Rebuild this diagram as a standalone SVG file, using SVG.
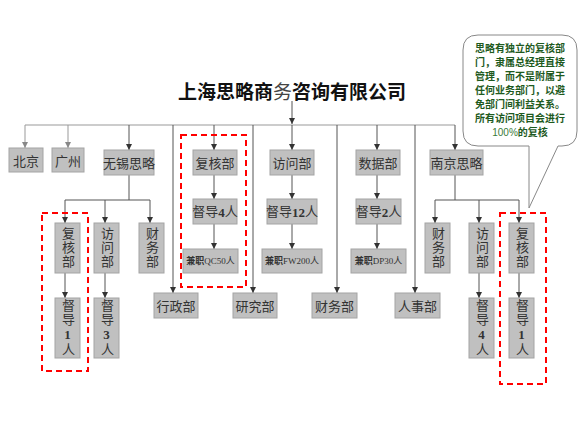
<svg xmlns="http://www.w3.org/2000/svg" width="580" height="429" viewBox="0 0 580 429">
<defs>
<style>
.b{fill:#c0c0c0;stroke:#a4a4a4;stroke-width:1}
.t{font-family:"Noto Sans CJK SC","Liberation Sans",sans-serif;font-size:13px;fill:#333;text-anchor:middle;dominant-baseline:central}
.s{font-family:"Liberation Serif","Noto Sans CJK SC",serif;font-size:13px;fill:#333;text-anchor:middle;dominant-baseline:central}
.v{font-family:"Liberation Serif","Noto Sans CJK SC",serif;font-size:13px;fill:#333;text-anchor:middle;writing-mode:vertical-rl;text-orientation:upright;letter-spacing:1px}
.k{font-family:"Liberation Serif","Noto Sans CJK SC",serif;font-size:9px;fill:#333;text-anchor:middle;dominant-baseline:central}
.l{stroke:#555;stroke-width:1;fill:none}
.g{stroke:#999;stroke-width:1;fill:none}
.r{fill:none;stroke:#ff0000;stroke-width:2;stroke-dasharray:6,4}
.c{font-family:"Noto Sans CJK SC",sans-serif;font-size:10px;font-weight:bold;fill:#1e5a1e;text-anchor:middle}
</style>
<marker id="a" markerWidth="6" markerHeight="6" refX="6" refY="3" orient="auto" markerUnits="userSpaceOnUse"><path d="M0,0L6,3L0,6z" fill="#333"/></marker>
<marker id="ag" markerWidth="6" markerHeight="6" refX="6" refY="3" orient="auto" markerUnits="userSpaceOnUse"><path d="M0,0L6,3L0,6z" fill="#888"/></marker>
</defs>
<rect width="580" height="429" fill="#fff"/>

<g id="title">
<text x="292" y="90" font-family="Noto Sans CJK SC,sans-serif" font-size="19" font-weight="bold" fill="#111" text-anchor="middle" dominant-baseline="central">上海思略商<tspan font-weight="normal" fill="#444">务</tspan>咨询有限公司</text>
</g>

<g id="connectors">
<line class="l" x1="292" y1="101" x2="292" y2="124" marker-end="url(#a)"/>
<line class="g" x1="25" y1="125" x2="455" y2="125"/>
<line class="g" x1="25" y1="125" x2="25" y2="148" marker-end="url(#ag)"/>
<line class="g" x1="68" y1="125" x2="68" y2="148" marker-end="url(#ag)"/>
<line class="l" x1="129" y1="125" x2="129" y2="150" marker-end="url(#a)"/>
<line class="l" x1="173" y1="125" x2="173" y2="293" marker-end="url(#a)"/>
<line class="l" x1="214" y1="125" x2="214" y2="150" marker-end="url(#a)"/>
<line class="l" x1="253" y1="125" x2="253" y2="293" marker-end="url(#a)"/>
<line class="l" x1="292" y1="125" x2="292" y2="150" marker-end="url(#a)"/>
<line class="l" x1="337" y1="125" x2="337" y2="293" marker-end="url(#a)"/>
<line class="l" x1="377" y1="125" x2="377" y2="150" marker-end="url(#a)"/>
<line class="l" x1="415" y1="125" x2="415" y2="293" marker-end="url(#a)"/>
<line class="l" x1="455" y1="125" x2="455" y2="150" marker-end="url(#a)"/>
<line class="l" x1="214" y1="175" x2="214" y2="199" marker-end="url(#a)"/>
<line class="l" x1="214" y1="224" x2="214" y2="249" marker-end="url(#a)"/>
<line class="l" x1="292" y1="175" x2="292" y2="199" marker-end="url(#a)"/>
<line class="l" x1="292" y1="224" x2="292" y2="249" marker-end="url(#a)"/>
<line class="l" x1="377" y1="175" x2="377" y2="199" marker-end="url(#a)"/>
<line class="l" x1="377" y1="224" x2="377" y2="249" marker-end="url(#a)"/>
<path class="l" d="M129,175V200M65,200H150"/>
<line class="l" x1="65" y1="200" x2="65" y2="223" marker-end="url(#a)"/>
<line class="l" x1="105" y1="200" x2="105" y2="223" marker-end="url(#a)"/>
<line class="l" x1="150" y1="200" x2="150" y2="223" marker-end="url(#a)"/>
<line class="l" x1="65" y1="273" x2="65" y2="298" marker-end="url(#a)"/>
<line class="l" x1="105" y1="273" x2="105" y2="298" marker-end="url(#a)"/>
<path class="l" d="M455,175V200M435,200H519"/>
<line class="l" x1="435" y1="200" x2="435" y2="223" marker-end="url(#a)"/>
<line class="l" x1="479" y1="200" x2="479" y2="223" marker-end="url(#a)"/>
<line class="l" x1="519" y1="200" x2="519" y2="223" marker-end="url(#a)"/>
<line class="l" x1="479" y1="273" x2="479" y2="298" marker-end="url(#a)"/>
<line class="l" x1="519" y1="273" x2="519" y2="298" marker-end="url(#a)"/>
</g>

<g id="n-beijing"><rect class="b" x="9" y="148" width="34" height="24"/><text class="t" x="26" y="160">北京</text></g>
<g id="n-guangzhou"><rect class="b" x="52" y="148" width="32" height="24"/><text class="t" x="68" y="160">广州</text></g>
<g id="n-wuxi"><rect class="b" x="104" y="150" width="50" height="25"/><text class="t" x="129" y="162.5">无锡思略</text></g>
<g id="n-fuhe"><rect class="b" x="193" y="150" width="44" height="25"/><text class="t" x="215" y="162.5">复核部</text></g>
<g id="n-fangwen"><rect class="b" x="270" y="150" width="44" height="25"/><text class="t" x="292" y="162.5">访问部</text></g>
<g id="n-shuju"><rect class="b" x="356" y="150" width="44" height="25"/><text class="t" x="378" y="162.5">数据部</text></g>
<g id="n-nanjing"><rect class="b" x="430" y="150" width="53" height="25"/><text class="t" x="456.5" y="162.5">南京思略</text></g>

<g id="n-dd4"><rect class="b" x="193" y="199" width="44" height="25"/><text class="s" x="215" y="211.5">督导<tspan font-weight="bold">4</tspan>人</text></g>
<g id="n-dd12"><rect class="b" x="267" y="199" width="50" height="25"/><text class="s" x="292" y="211.5">督导<tspan font-weight="bold">12</tspan>人</text></g>
<g id="n-dd2"><rect class="b" x="356" y="199" width="45" height="25"/><text class="s" x="378.5" y="211.5">督导<tspan font-weight="bold">2</tspan>人</text></g>
<g id="n-qc"><rect class="b" x="183" y="249" width="55" height="24"/><text class="k" x="210.5" y="261"><tspan font-weight="bold">兼职</tspan>QC50人</text></g>
<g id="n-fw"><rect class="b" x="262" y="249" width="60" height="24"/><text class="k" x="292" y="261"><tspan font-weight="bold">兼职</tspan>FW200人</text></g>
<g id="n-dp"><rect class="b" x="351" y="249" width="55" height="24"/><text class="k" x="378.5" y="261"><tspan font-weight="bold">兼职</tspan>DP30人</text></g>

<g id="n-xingzheng"><rect class="b" x="154" y="293" width="44" height="25"/><text class="t" x="176" y="305.5">行政部</text></g>
<g id="n-yanjiu"><rect class="b" x="233" y="293" width="44" height="25"/><text class="t" x="255" y="305.5">研究部</text></g>
<g id="n-caiwu"><rect class="b" x="312" y="293" width="45" height="25"/><text class="t" x="334.5" y="305.5">财务部</text></g>
<g id="n-renshi"><rect class="b" x="395" y="293" width="45" height="25"/><text class="t" x="417.5" y="305.5">人事部</text></g>

<g id="n-wx-fuhe"><rect class="b" x="55" y="223" width="25" height="50"/><text class="v" x="67.5" y="248">复核部</text></g>
<g id="n-wx-fangwen"><rect class="b" x="94" y="223" width="25" height="50"/><text class="v" x="106.5" y="248">访问部</text></g>
<g id="n-wx-caiwu"><rect class="b" x="139" y="223" width="25" height="50"/><text class="v" x="151.5" y="248">财务部</text></g>
<g id="n-wx-dd1"><rect class="b" x="55" y="298" width="25" height="60"/><text class="v" x="67.5" y="328">督导<tspan font-weight="bold">1</tspan>人</text></g>
<g id="n-wx-dd3"><rect class="b" x="94" y="298" width="25" height="60"/><text class="v" x="106.5" y="328">督导<tspan font-weight="bold">3</tspan>人</text></g>

<g id="n-nj-caiwu"><rect class="b" x="425" y="223" width="25" height="50"/><text class="v" x="437.5" y="248">财务部</text></g>
<g id="n-nj-fangwen"><rect class="b" x="469" y="223" width="25" height="50"/><text class="v" x="481.5" y="248">访问部</text></g>
<g id="n-nj-fuhe"><rect class="b" x="509" y="223" width="25" height="50"/><text class="v" x="521.5" y="248">复核部</text></g>
<g id="n-nj-dd4"><rect class="b" x="469" y="298" width="25" height="60"/><text class="v" x="481.5" y="328">督导<tspan font-weight="bold">4</tspan>人</text></g>
<g id="n-nj-dd1"><rect class="b" x="509" y="298" width="25" height="60"/><text class="v" x="521.5" y="328">督导<tspan font-weight="bold">1</tspan>人</text></g>

<g id="highlights">
<rect class="r" x="42" y="213" width="46" height="158"/>
<rect class="r" x="181" y="135" width="65" height="152"/>
<rect class="r" x="500" y="213" width="46" height="171"/>
</g>

<g id="callout">
<path d="M478,35H562Q577,35 577,50V131Q577,146 562,146H558L529,208V146H478Q463,146 463,131V50Q463,35 478,35Z" fill="#fff" stroke="#888" stroke-width="1"/>
<text class="c" x="520" y="52">思略有独立的复核部</text>
<text class="c" x="520" y="66">门，隶属总经理直接</text>
<text class="c" x="520" y="80">管理，而不是附属于</text>
<text class="c" x="520" y="94">任何业务部门，以避</text>
<text class="c" x="520" y="108">免部门间利益关系。</text>
<text class="c" x="520" y="122">所有访问项目会进行</text>
<text class="c" x="520" y="136"><tspan font-family="Liberation Sans,sans-serif" font-weight="normal" fill="#3a7a3a">100%</tspan>的复核</text>
</g>
</svg>
